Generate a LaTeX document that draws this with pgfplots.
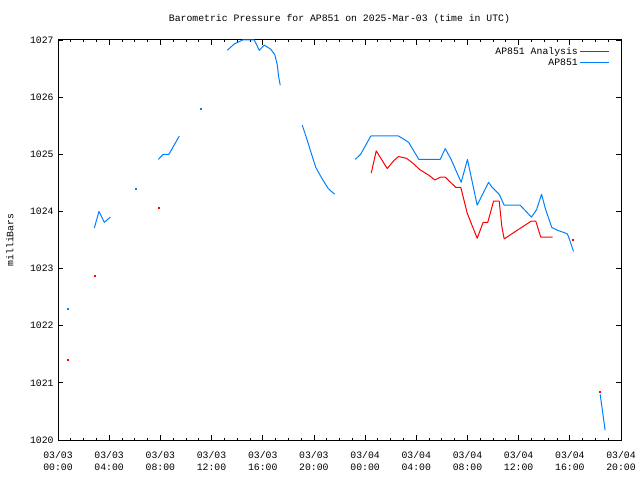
\documentclass[border=0pt]{standalone}
\usepackage{pgfplots}
\pgfplotsset{compat=1.18}
\usepackage{fontspec}
\setmainfont{Liberation Mono}
\definecolor{apred}{RGB}{255,0,0}
\definecolor{apblue}{RGB}{0,128,255}
\begin{document}
\fontsize{9.8}{12}\selectfont
\begin{tikzpicture}
\path[use as bounding box] (0pt,0pt) rectangle (640pt,480pt);
\begin{axis}[
  at={(58pt,40pt)}, anchor=south west,
  scale only axis, width=563pt, height=400pt,
  xmin=0, xmax=44, ymin=1020, ymax=1027,
  xtick={0,4,...,44},
  xticklabels={03/03\\00:00,03/03\\04:00,03/03\\08:00,03/03\\12:00,03/03\\16:00,03/03\\20:00,03/04\\00:00,03/04\\04:00,03/04\\08:00,03/04\\12:00,03/04\\16:00,03/04\\20:00},
  xticklabel style={align=center, font=\fontsize{9.8}{12}\selectfont, yshift=-8pt},
  minor x tick num=3,
  ytick={1020,1021,...,1027},
  /pgf/number format/assume math mode=true,
  yticklabel style={/pgf/number format/1000 sep={}, xshift=-1pt},
  major tick length=5pt, minor tick length=2.5pt,
  tick style={black, line width=0.8pt},
  axis line style={line width=1pt},
  tick align=inside,
  title={Barometric Pressure for AP851 on 2025-Mar-03 (time in UTC)},
  title style={at={(0.5,1)}, anchor=center, yshift=15pt},
  ylabel={milliBars},
  ylabel style={at={(axis description cs:-0.0853,0.5)}, anchor=center},
  unbounded coords=jump,
  legend plot pos=right,
  legend cell align=right,
  legend style={draw=none, fill=none, at={(1,1)}, anchor=north east, xshift=-8pt, yshift=-3pt, row sep=-1pt},
  legend image code/.code={\draw[#1] (0pt,0pt) -- (29pt,0pt);},
]
\addplot[apred, line width=1pt, line join=round] coordinates {
(24.48,1024.67)(24.87,1025.06)(25.73,1024.75)(26.25,1024.89)(26.61,1024.96)(27.24,1024.93)(27.76,1024.84)(28.28,1024.73)(29.01,1024.63)(29.45,1024.55)(29.9,1024.6)(30.26,1024.6)(31.09,1024.42)(31.48,1024.42)(31.98,1023.97)(32.76,1023.53)(33.23,1023.81)(33.59,1023.81)(34.04,1024.18)(34.48,1024.18)(34.69,1023.73)(34.87,1023.52)(36.98,1023.83)(37.34,1023.83)(37.73,1023.55)(38.65,1023.55)
};
\addlegendentry{AP851 Analysis}
\addplot[apblue, line width=1pt, line join=round] coordinates {
(2.84,1023.71)(3.2,1024.0)(3.62,1023.81)(4.09,1023.90)
(5,nan)
(7.84,1024.91)(8.23,1025.0)(8.67,1025.0)(9.48,1025.32)
(10,nan)
(13.23,1026.82)(13.77,1026.93)(14.43,1027.0)(15.34,1027.0)(15.73,1026.82)(16.12,1026.91)(16.62,1026.84)(16.95,1026.74)(17.14,1026.56)(17.24,1026.36)(17.37,1026.21)
(18,nan)
(19.09,1025.51)(19.43,1025.28)(19.82,1025.0)(20.13,1024.78)(20.39,1024.67)(20.73,1024.54)(21.12,1024.40)(21.62,1024.30)
(22,nan)
(23.23,1024.91)(23.65,1025.0)(24.45,1025.32)(26.61,1025.32)(26.98,1025.27)(27.4,1025.21)(28.2,1024.91)(29.87,1024.91)(30.26,1025.10)(30.7,1024.92)(31.51,1024.51)(32.0,1024.91)(32.76,1024.11)(33.65,1024.51)(33.9,1024.43)(34.48,1024.3)(34.87,1024.11)(36.12,1024.11)(37.0,1023.9)(37.4,1024.03)(37.79,1024.3)(38.1,1024.04)(38.59,1023.72)(39.04,1023.67)(39.79,1023.61)(39.9,1023.56)(40.29,1023.30)
(41,nan)
(42.37,1020.80)(42.76,1020.17)
};
\addlegendentry{AP851}
\addplot[forget plot, only marks, mark=square*, mark size=0.5pt, apred] coordinates {
(0.73,1021.41)(2.84,1022.88)(7.84,1024.07)(40.26,1023.5)(42.37,1020.85)
};
\addplot[forget plot, only marks, mark=square*, mark size=0.5pt, apblue] coordinates {
(0.73,1022.30)(6.09,1024.40)(11.12,1025.80)
};
\end{axis}
\end{tikzpicture}
\end{document}
